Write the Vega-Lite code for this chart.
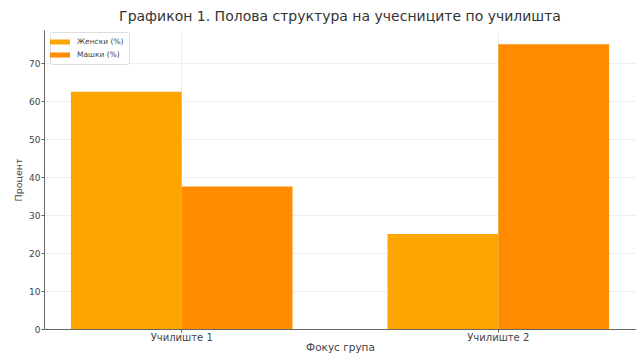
{
  "$schema": "https://vega.github.io/schema/vega-lite/v6.json",
  "autosize": {"type": "none"},
  "width": 592,
  "height": 299,
  "padding": {"left": 44, "top": 30, "right": 0, "bottom": 27},
  "background": "white",
  "config": {
    "font": "DejaVu Sans",
    "view": {"stroke": null}
  },
  "title": {
    "text": "Графикон 1. Полова структура на учесниците по училишта",
    "fontSize": 14,
    "fontWeight": "normal",
    "color": "#333333",
    "anchor": "middle",
    "offset": 6
  },
  "data": {
    "values": [
      {"school": "Училиште 1", "gender": "Женски (%)", "value": 62.5},
      {"school": "Училиште 1", "gender": "Машки (%)", "value": 37.5},
      {"school": "Училиште 2", "gender": "Женски (%)", "value": 25},
      {"school": "Училиште 2", "gender": "Машки (%)", "value": 75}
    ]
  },
  "mark": {"type": "bar"},
  "encoding": {
    "x": {
      "field": "school",
      "type": "nominal",
      "title": "Фокус група",
      "scale": {"paddingInner": 0.3, "paddingOuter": 0.085},
      "axis": {
        "labelAngle": 0,
        "labelFontSize": 10,
        "labelColor": "#444444",
        "titleFontSize": 10.5,
        "titleFontWeight": "normal",
        "titleColor": "#444444",
        "titlePadding": 0,
        "domainColor": "#666666",
        "tickColor": "#666666",
        "tickSize": 3,
        "labelPadding": 0,
        "grid": true,
        "gridColor": "#eeeeee",
        "bandPosition": 0.5
      }
    },
    "xOffset": {"field": "gender", "type": "nominal"},
    "y": {
      "field": "value",
      "type": "quantitative",
      "title": "Процент",
      "scale": {"domain": [0, 78.75], "nice": false},
      "axis": {
        "values": [0, 10, 20, 30, 40, 50, 60, 70],
        "labelFontSize": 9,
        "labelColor": "#444444",
        "titleFontSize": 9.5,
        "titleFontWeight": "normal",
        "titleColor": "#444444",
        "titlePadding": 5,
        "domainColor": "#666666",
        "tickColor": "#666666",
        "tickSize": 3,
        "labelPadding": 1,
        "grid": true,
        "gridColor": "#eeeeee"
      }
    },
    "color": {
      "field": "gender",
      "type": "nominal",
      "scale": {"domain": ["Женски (%)", "Машки (%)"], "range": ["#FFA500", "#FF8C00"]},
      "legend": {
        "title": null,
        "orient": "none",
        "legendX": 6,
        "legendY": 2,
        "fillColor": "white",
        "strokeColor": "#dddddd",
        "padding": 5,
        "cornerRadius": 2,
        "labelFontSize": 7.5,
        "labelColor": "#444444",
        "labelOffset": 12,
        "symbolType": "M-2,-0.5H2V0.5H-2Z",
        "symbolSize": 100,
        "symbolStrokeWidth": 0,
        "rowPadding": 4
      }
    }
  }
}
